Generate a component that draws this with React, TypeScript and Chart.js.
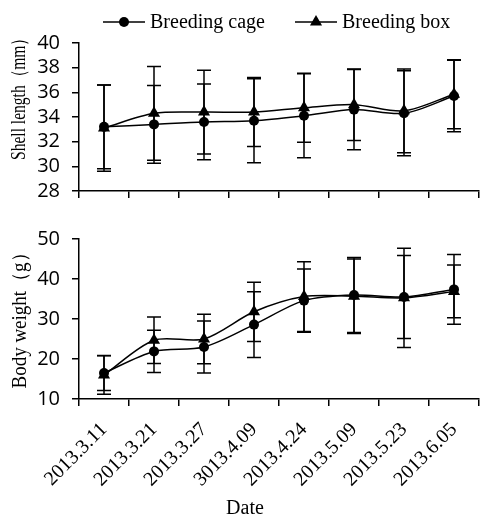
import React, { useEffect, useRef } from "react";
import { Chart, registerables } from "chart.js";

Chart.register(...registerables);

// ---------- data ----------
const dates = ["2013.3.11", "2013.3.21", "2013.3.27", "3013.4.09", "2013.4.24", "2013.5.09", "2013.5.23", "2013.6.05"];
const seriesNames = ["Breeding cage", "Breeding box"];

const shellCage = [33.2, 33.4, 33.6, 33.7, 34.1, 34.6, 34.3, 35.7];
const shellCageErr = [3.4, 3.15, 3.07, 3.4, 3.4, 3.25, 3.45, 2.9];
const shellBox = [33.1, 34.3, 34.4, 34.4, 34.75, 35.0, 34.5, 35.85];
const shellBoxErr = [3.5, 3.8, 3.4, 2.8, 2.8, 2.9, 3.4, 2.8];

const weightCage = [16.5, 21.9, 23.0, 28.6, 34.6, 36.0, 35.5, 37.4];
const weightCageErr = [4.4, 5.3, 6.5, 8.2, 7.9, 9.4, 10.4, 8.7];
const weightBox = [16.0, 24.7, 25.0, 31.8, 35.6, 35.7, 35.3, 36.9];
const weightBoxErr = [4.8, 5.8, 6.2, 7.4, 8.7, 9.3, 12.4, 6.6];

const shellMin = 28;
const shellMax = 40;
const shellStep = 2;
const weightMin = 10;
const weightMax = 50;
const weightStep = 10;

const shellTitle = "Shell length（mm）";
const weightTitle = "Body weight（g）";
const xTitle = "Date";

// ---------- styles ----------
const SERIF = "'Liberation Serif', 'Times New Roman', serif";
const SANS = "'Open Sans', 'Liberation Sans', sans-serif";
const BLACK = "#000";

const pointStyles = ["circle", "triangle"];
const pointRadii = [5, 7];

type TextItem = { text: string; x: number; y: number; rotate?: number; font: string; span?: number };

function drawMarker(ctx: CanvasRenderingContext2D, style: string, x: number, y: number, r: number) {
  ctx.beginPath();
  if (style === "circle") {
    ctx.arc(x, y, r, 0, Math.PI * 2);
  } else {
    let rad = 0;
    ctx.moveTo(x + Math.sin(rad) * r, y - Math.cos(rad) * r);
    rad += (2 * Math.PI) / 3;
    ctx.lineTo(x + Math.sin(rad) * r, y - Math.cos(rad) * r);
    rad += (2 * Math.PI) / 3;
    ctx.lineTo(x + Math.sin(rad) * r, y - Math.cos(rad) * r);
    ctx.closePath();
  }
  ctx.fill();
}

function makeErrorBarPlugin(errors: number[][]) {
  return {
    id: "errorBars",
    afterDatasetsDraw(chart: any) {
      const ctx = chart.ctx as CanvasRenderingContext2D;
      const yScale = chart.scales.y;
      ctx.save();
      ctx.strokeStyle = BLACK;
      ctx.lineWidth = 1.5;
      chart.data.datasets.forEach((ds: any, di: number) => {
        const errs = errors[di];
        const meta = chart.getDatasetMeta(di);
        meta.data.forEach((pt: any, i: number) => {
          const v = ds.data[i];
          const e = errs[i];
          const x = pt.x;
          const yt = yScale.getPixelForValue(v + e);
          const yb = yScale.getPixelForValue(v - e);
          ctx.beginPath();
          ctx.moveTo(x, yt);
          ctx.lineTo(x, yb);
          ctx.moveTo(x - 7, yt);
          ctx.lineTo(x + 7, yt);
          ctx.moveTo(x - 7, yb);
          ctx.lineTo(x + 7, yb);
          ctx.stroke();
        });
      });
      ctx.restore();
    },
  };
}

function makeTextPlugin(items: TextItem[]) {
  return {
    id: "texts",
    afterDraw(chart: any) {
      const ctx = chart.ctx as CanvasRenderingContext2D;
      items.forEach((it) => {
        ctx.save();
        ctx.fillStyle = BLACK;
        ctx.font = it.font;
        ctx.textAlign = "center";
        ctx.textBaseline = "middle";
        ctx.translate(it.x, it.y);
        if (it.rotate) ctx.rotate(it.rotate);
        if (it.span) {
          const w = ctx.measureText(it.text).width;
          ctx.scale(it.span / w, 1);
        }
        ctx.fillText(it.text, 0, 0);
        ctx.restore();
      });
    },
  };
}

function makeLegendPlugin(show: boolean, starts: number[], y: number) {
  return {
    id: "lineLegend",
    afterDraw(chart: any) {
      if (!show) return;
      const ctx = chart.ctx as CanvasRenderingContext2D;
      ctx.save();
      chart.data.datasets.forEach((ds: any, i: number) => {
        const x0 = starts[i];
        ctx.strokeStyle = BLACK;
        ctx.fillStyle = BLACK;
        ctx.lineWidth = 1.5;
        ctx.beginPath();
        ctx.moveTo(x0, y);
        ctx.lineTo(x0 + 42, y);
        ctx.stroke();
        drawMarker(ctx, pointStyles[i], x0 + 21, y, pointRadii[i]);
        ctx.font = `20px ${SERIF}`;
        ctx.textAlign = "left";
        ctx.textBaseline = "middle";
        ctx.fillText(ds.label, x0 + 47, y + 1);
      });
      ctx.restore();
    },
  };
}

function makeDatasets(a: number[], b: number[]) {
  return [a, b].map((d, i) => ({
    label: seriesNames[i],
    data: d,
    borderColor: BLACK,
    backgroundColor: BLACK,
    borderWidth: 1.5,
    pointStyle: pointStyles[i],
    pointRadius: pointRadii[i],
    pointHoverRadius: pointRadii[i],
    pointBorderWidth: 0,
    tension: 0.3,
    fill: false,
  }));
}

function makeConfig(kind: "top" | "bottom"): any {
  const top = kind === "top";
  const textItems: TextItem[] = top
    ? [{ text: shellTitle, x: 20, y: 95, rotate: -Math.PI / 2, font: `20px ${SERIF}`, span: 130 }]
    : [
        { text: weightTitle, x: 21, y: 316 - 215, rotate: -Math.PI / 2, font: `20px ${SERIF}`, span: 145 },
        { text: xTitle, x: 245, y: 509 - 215, font: `20px ${SERIF}` },
      ];
  return {
    type: "line",
    data: {
      labels: dates,
      datasets: top ? makeDatasets(shellCage, shellBox) : makeDatasets(weightCage, weightBox),
    },
    plugins: [
      makeErrorBarPlugin(top ? [shellCageErr, shellBoxErr] : [weightCageErr, weightBoxErr]),
      makeTextPlugin(textItems),
      makeLegendPlugin(top, [103, 295], 22),
    ],
    options: {
      responsive: false,
      animation: false,
      events: [],
      layout: { padding: { top: top ? 43 : 23, left: 0, right: 1, bottom: 0 } },
      plugins: {
        legend: { display: false },
        tooltip: { enabled: false },
      },
      scales: {
        x: {
          type: "category",
          offset: true,
          grid: {
            offset: true,
            drawOnChartArea: false,
            drawTicks: true,
            tickLength: 7,
            color: BLACK,
            lineWidth: 1.5,
          },
          border: { color: BLACK, width: 1.5 },
          ticks: top
            ? { display: false }
            : {
                display: true,
                autoSkip: false,
                maxRotation: 45,
                minRotation: 45,
                padding: 12,
                color: BLACK,
                font: { family: SERIF, size: 20 },
              },
          afterFit: (s: any) => {
            s.height = top ? 10 : 118;
          },
        },
        y: {
          min: top ? shellMin : weightMin,
          max: top ? shellMax : weightMax,
          ticks: {
            stepSize: top ? shellStep : weightStep,
            color: BLACK,
            padding: 12,
            font: { family: SANS, size: 20 },
          },
          grid: { drawOnChartArea: false, drawTicks: true, tickLength: 7, color: BLACK, lineWidth: 1.5 },
          border: { color: BLACK, width: 1.5 },
          afterFit: (s: any) => {
            s.width = 79;
          },
        },
      },
    },
  };
}

export default function App() {
  const topRef = useRef<HTMLCanvasElement>(null);
  const bottomRef = useRef<HTMLCanvasElement>(null);

  useEffect(() => {
    const c1 = new Chart(topRef.current!, makeConfig("top"));
    const c2 = new Chart(bottomRef.current!, makeConfig("bottom"));
    return () => {
      c1.destroy();
      c2.destroy();
    };
  }, []);

  return (
    <div
      style={{
        position: "absolute",
        left: 0,
        top: 0,
        width: 482,
        height: 517,
        overflow: "hidden",
        background: "#fff",
      }}
    >
      <canvas ref={topRef} width={486} height={215} style={{ position: "absolute", left: 0, top: 0, width: 486, height: 215 }} />
      <canvas ref={bottomRef} width={486} height={302} style={{ position: "absolute", left: 0, top: 215, width: 486, height: 302 }} />
    </div>
  );
}
